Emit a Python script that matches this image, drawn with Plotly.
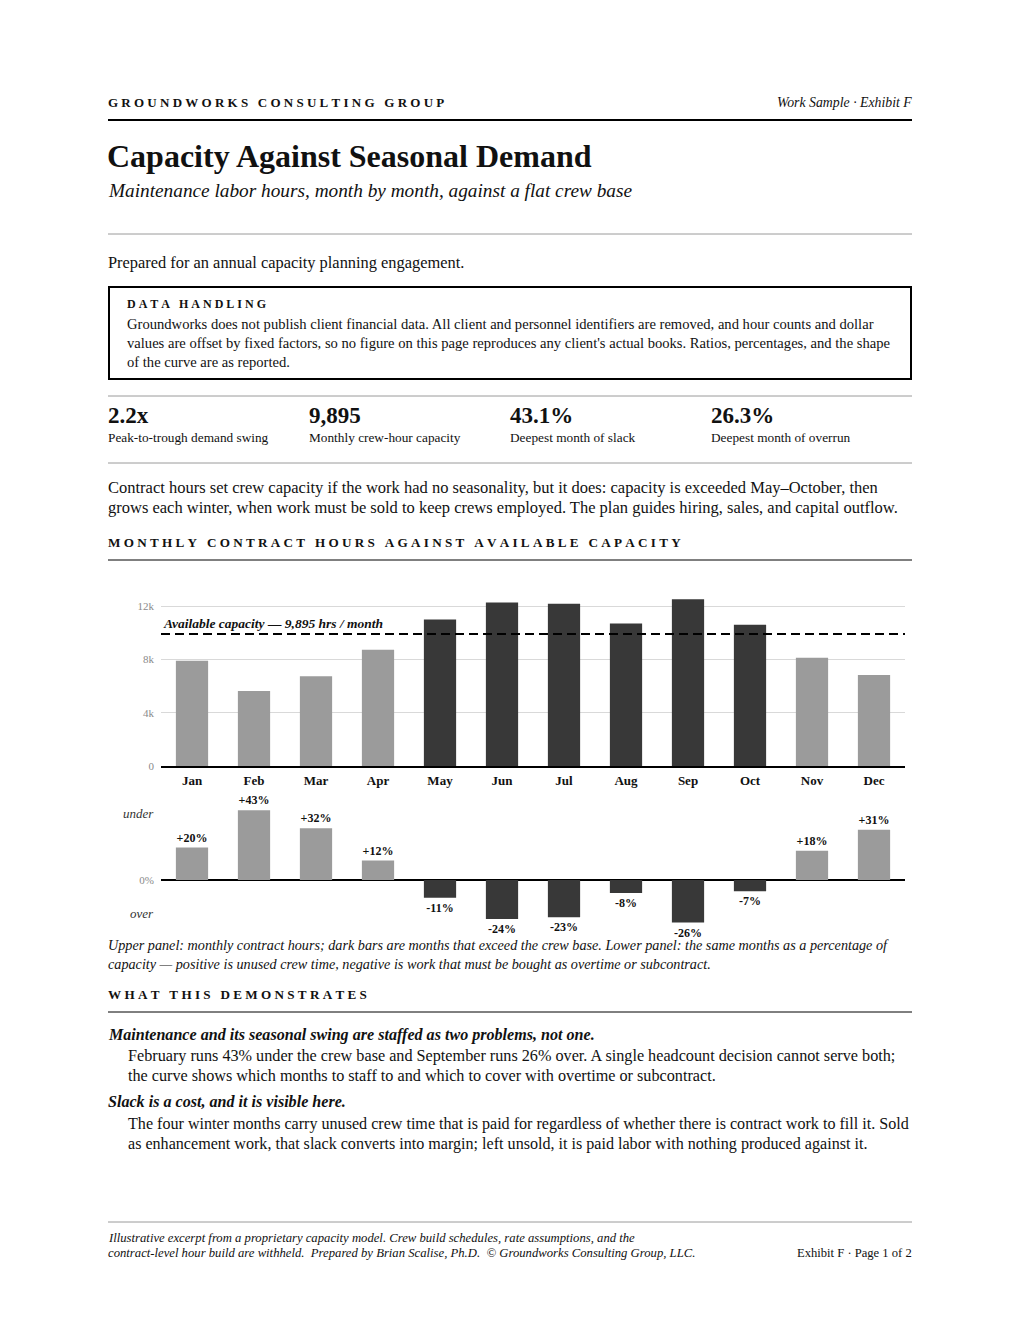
import plotly.graph_objects as go

W = 1020
H = 1320        # page coordinate system of the layout
FIG_H = 1326    # rendered figure height (compensates for the capture's vertical scaling)
SERIF = "Liberation Serif, Times New Roman, serif"

# ---------------- data ----------------
MONTHS = ["Jan", "Feb", "Mar", "Apr", "May", "Jun", "Jul", "Aug", "Sep", "Oct", "Nov", "Dec"]
HOURS = [7900, 5630, 6730, 8710, 10980, 12270, 12170, 10690, 12500, 10590, 8110, 6830]
CAPACITY = 9895
PCT_UNDER = [20.0, 43.1, 32.0, 12.0, -11.0, -24.0, -23.0, -8.0, -26.3, -7.0, 18.0, 31.0]
Y_TICKS = [0, 4000, 8000, 12000]
Y_TICK_LABELS = ["0", "4k", "8k", "12k"]
KPI_VALUES = ["2.2x", "9,895", "43.1%", "26.3%"]
KPI_LABELS = ["Peak-to-trough demand swing", "Monthly crew-hour capacity",
              "Deepest month of slack", "Deepest month of overrun"]

LIGHT = "#9b9b9b"
DARK = "#383838"

bar_colors = [DARK if h > CAPACITY else LIGHT for h in HOURS]
pct_colors = [LIGHT if p > 0 else DARK for p in PCT_UNDER]
pct_text = [f"{p:+.0f}%" for p in PCT_UNDER]


def fy(py):
    return 1 - py / H


def fx(px):
    return px / W


fig = go.Figure()

fig.add_trace(go.Bar(x=MONTHS, y=HOURS, marker=dict(color=bar_colors, line=dict(width=0)),
                     xaxis="x", yaxis="y", hoverinfo="skip", showlegend=False))
fig.add_trace(go.Bar(x=MONTHS, y=PCT_UNDER, marker=dict(color=pct_colors, line=dict(width=0)),
                     text=pct_text, textposition="outside", cliponaxis=False,
                     constraintext="none",
                     textfont=dict(family=SERIF, size=12, color="#111", weight="bold"),
                     xaxis="x2", yaxis="y2", hoverinfo="skip", showlegend=False))

X0, X1 = 161, 905
up_bot, up_top = 766, 596
lo_zero, lo_scale = 880, 1.62
lo_max, lo_min = 47, -30
lo_top = lo_zero - lo_max * lo_scale
lo_bot = lo_zero - lo_min * lo_scale

fig.update_layout(
    width=W, height=FIG_H,
    margin=dict(l=0, r=0, t=0, b=0),
    paper_bgcolor="white", plot_bgcolor="white",
    bargap=0.48,
    font=dict(family=SERIF, color="#111"),
    xaxis=dict(domain=[fx(X0), fx(X1)], anchor="y", showgrid=False, showline=True,
               linecolor="#000", linewidth=2, ticks="", fixedrange=True,
               ticklabelstandoff=1,
               tickfont=dict(family=SERIF, size=13, color="#111", weight="bold")),
    yaxis=dict(domain=[fy(up_bot), fy(up_top)], anchor="x", range=[0, 12750],
               tickvals=Y_TICKS, ticktext=Y_TICK_LABELS, showgrid=True,
               gridcolor="#d9d9d9", gridwidth=1, zeroline=False, showline=False,
               ticks="", ticklabelstandoff=6,
               tickfont=dict(family=SERIF, size=11, color="#8a8a8a"),
               fixedrange=True),
    xaxis2=dict(domain=[fx(X0), fx(X1)], anchor="y2", showgrid=False, showline=False,
                showticklabels=False, ticks="", fixedrange=True),
    yaxis2=dict(domain=[fy(lo_bot), fy(lo_top)], anchor="x2", range=[lo_min, lo_max],
                tickvals=[0], ticktext=["0%"], showgrid=False, zeroline=True,
                zerolinecolor="#000", zerolinewidth=1.5, ticks="", ticklabelstandoff=6,
                tickfont=dict(family=SERIF, size=11, color="#8a8a8a"), fixedrange=True),
)

# capacity line + label
fig.add_shape(type="line", xref="x domain", yref="y", x0=0, x1=1, y0=CAPACITY, y1=CAPACITY,
              line=dict(color="#000", width=2, dash="9px,5px"))
fig.add_annotation(xref="x domain", yref="y", x=0.0, y=CAPACITY, yshift=11,
                   text=f"<b><i>Available capacity — {CAPACITY:,} hrs / month</i></b>",
                   showarrow=False, xanchor="left", yanchor="middle",
                   font=dict(family=SERIF, size=13.5, color="#111"))


def T(px, py, text, size, color="#111", anchor="left"):
    fig.add_annotation(x=fx(px), y=fy(py), xref="paper", yref="paper", text=text,
                       showarrow=False, xanchor=anchor, yanchor="middle",
                       font=dict(family=SERIF, size=size, color=color))


def HL(y, x0=108, x1=912, color="#9a9a9a", width=1):
    fig.add_shape(type="line", xref="paper", yref="paper", x0=fx(x0), x1=fx(x1),
                  y0=fy(y), y1=fy(y), line=dict(color=color, width=width))


def spaced(s, sp="\u2005"):
    return sp.join(list(s))


# header
T(106, 102, "<b>" + spaced("GROUNDWORKS CONSULTING GROUP") + "</b>", 13)
T(914, 102, "<i>Work Sample · Exhibit F</i>", 13.8, anchor="right")
HL(120, color="#000", width=2)
T(105, 156, "<b>Capacity Against Seasonal Demand</b>", 32)
T(106, 191, "<i>Maintenance labor hours, month by month, against a flat crew base</i>", 19.3)
HL(234)
T(106, 262, "Prepared for an annual capacity planning engagement.", 16.4)

# data handling box
fig.add_shape(type="rect", xref="paper", yref="paper", x0=fx(109), x1=fx(911),
              y0=fy(287), y1=fy(379), line=dict(color="#000", width=2))
T(125, 304, "<b>" + spaced("DATA HANDLING") + "</b>", 12)
box_lines = [
    "Groundworks does not publish client financial data. All client and personnel identifiers are removed, and hour counts and dollar",
    "values are offset by fixed factors, so no figure on this page reproduces any client's actual books. Ratios, percentages, and the shape",
    "of the curve are as reported.",
]
for i, ln in enumerate(box_lines):
    T(125, 324 + 19 * i, ln, 14.6)

# KPI strip
HL(396)
for i, (v, l) in enumerate(zip(KPI_VALUES, KPI_LABELS)):
    T(106 + 201 * i, 415, f"<b>{v}</b>", 23)
    T(106 + 201 * i, 437, l, 13.3)
HL(463)

intro = [
    "Contract hours set crew capacity if the work had no seasonality, but it does: capacity is exceeded May–October, then",
    "grows each winter, when work must be sold to keep crews employed. The plan guides hiring, sales, and capital outflow.",
]
for i, ln in enumerate(intro):
    T(106, 488 + 20 * i, ln, 16.5)

T(106, 542, "<b>" + spaced("MONTHLY CONTRACT HOURS AGAINST AVAILABLE CAPACITY") + "</b>", 13.15)
HL(560, color="#000", width=1)

# lower panel side labels
T(156, 813, "<i>under</i>", 13, color="#333", anchor="right")
T(156, 913, "<i>over</i>", 13, color="#333", anchor="right")

caption = [
    "Upper panel: monthly contract hours; dark bars are months that exceed the crew base. Lower panel: the same months as a percentage of",
    "capacity — positive is unused crew time, negative is work that must be bought as overtime or subcontract.",
]
for i, ln in enumerate(caption):
    T(106, 945 + 19 * i, f"<i>{ln}</i>", 14.2)

T(106, 994, "<b>" + spaced("WHAT THIS DEMONSTRATES") + "</b>", 13.15)
HL(1012, color="#000", width=1)

T(106, 1035, "<b><i>Maintenance and its seasonal swing are staffed as two problems, not one.</i></b>", 16.1)
p1 = [
    "February runs 43% under the crew base and September runs 26% over. A single headcount decision cannot serve both;",
    "the curve shows which months to staff to and which to cover with overtime or subcontract.",
]
for i, ln in enumerate(p1):
    T(126, 1056 + 20 * i, ln, 16.2)
T(106, 1101, "<b><i>Slack is a cost, and it is visible here.</i></b>", 16.1)
p2 = [
    "The four winter months carry unused crew time that is paid for regardless of whether there is contract work to fill it. Sold",
    "as enhancement work, that slack converts into margin; left unsold, it is paid labor with nothing produced against it.",
]
for i, ln in enumerate(p2):
    T(126, 1124 + 20 * i, ln, 16.1)

# footer
HL(1222)
T(106, 1238, "<i>Illustrative excerpt from a proprietary capacity model. Crew build schedules, rate assumptions, and the</i>", 12.7)
T(106, 1253, "<i>contract-level hour build are withheld.  Prepared by Brian Scalise, Ph.D.  © Groundworks Consulting Group, LLC.</i>", 12.7)
T(914, 1253, "Exhibit F · Page 1 of 2", 12.6, anchor="right")

fig.write_html(
    "out.html",
    config={"displayModeBar": False},
    post_script=(
        "document.documentElement.style.margin='0';"
        "document.documentElement.style.overflow='hidden';"
        "document.body.style.margin='0';"
        "document.body.style.overflow='hidden';"
        "document.body.style.lineHeight='0';"
    ),
)
